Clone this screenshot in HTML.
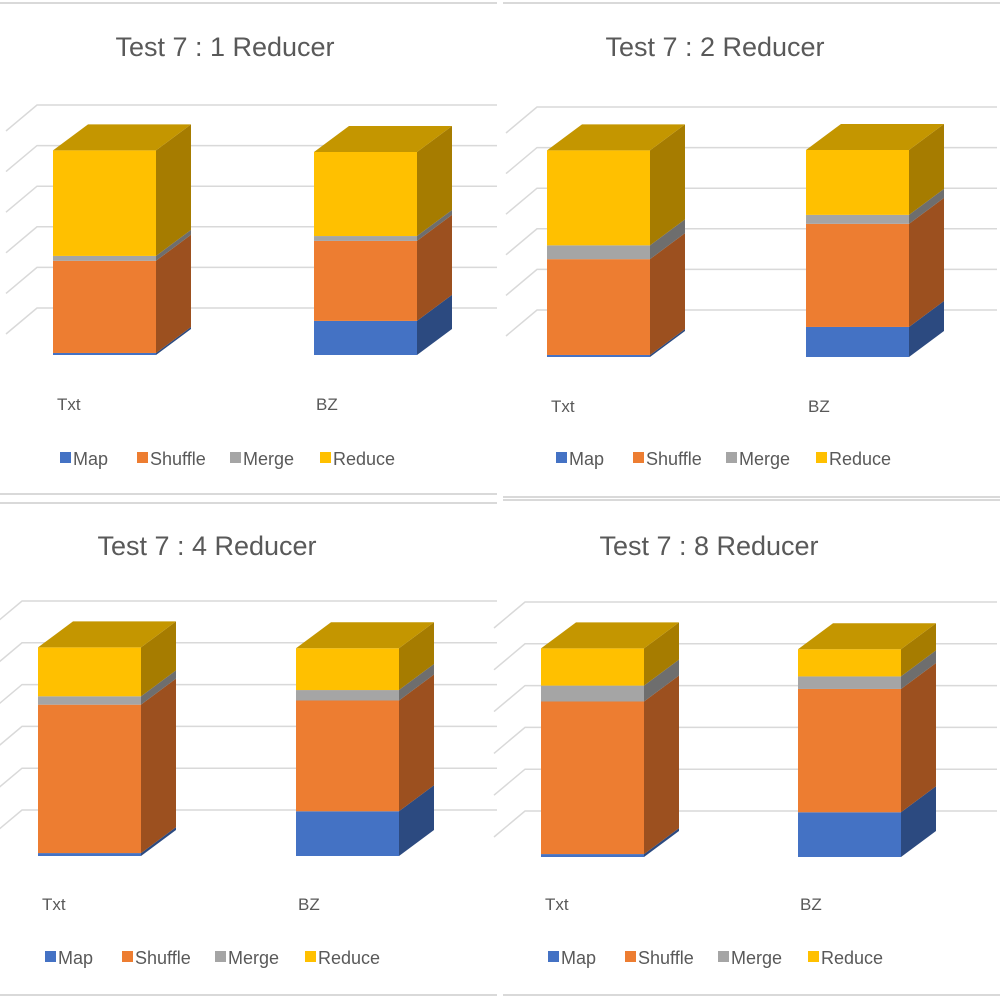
<!DOCTYPE html>
<html><head><meta charset="utf-8">
<style>
html,body{margin:0;padding:0;background:#fff;}
svg text{font-family:"Liberation Sans",sans-serif;}
</style></head>
<body>
<svg id="c" width="1000" height="1000" viewBox="0 0 1000 1000" xmlns="http://www.w3.org/2000/svg"></svg>
<script>
const titles = ["Test 7 : 1 Reducer","Test 7 : 2 Reducer","Test 7 : 4 Reducer","Test 7 : 8 Reducer"];
const categories = ["Txt","BZ"];
const seriesNames = ["Map","Shuffle","Merge","Reduce"];
// values per panel: [Txt, BZ]
const mapValues = [[0.05,0.84],[0.05,0.74],[0.07,1.07],[0.07,1.07]];
const shuffleValues = [[2.27,1.97],[2.36,2.54],[3.55,2.65],[3.65,2.95]];
const mergeValues = [[0.12,0.12],[0.34,0.22],[0.2,0.25],[0.38,0.3]];
const reduceValues = [[2.6,2.07],[2.34,1.6],[1.17,1.0],[0.89,0.65]];

const front=["#4472C4","#ED7D31","#A5A5A5","#FFC000"];
const side=["#2C4A80","#9C501F","#6E6E6E","#A67C00"];
const topc=["#3A62A8","#C8692A","#8C8C8C","#C49600"];

const panels=[
 {ox:0,oy:0,bottom:355,scale:40.6,barX:[53,314],gx:37,gOff:21,tx:225,ty:56,lblY:410,legY:458,legX:60},
 {ox:500,oy:0,bottom:357,scale:40.6,barX:[547,806],gx:537,gOff:21,tx:715,ty:56,lblY:412,legY:458,legX:556},
 {ox:0,oy:500,bottom:856,scale:41.8,barX:[38,296],gx:22,gOff:20,tx:207,ty:555,lblY:910,legY:957,legX:45},
 {ox:500,oy:500,bottom:857,scale:41.8,barX:[541,798],gx:525,gOff:20,tx:709,ty:555,lblY:910,legY:957,legX:548}
];
const BW=103, DX=35, DY=-26;
const svg=document.getElementById('c');
const NS="http://www.w3.org/2000/svg";
function mk(tag,attrs,parent){const e=document.createElementNS(NS,tag);for(const k in attrs)e.setAttribute(k,attrs[k]);(parent||svg).appendChild(e);return e;}

[[0,3,497,3],[503,3,1000,3],[0,494,497,494],[503,497,1000,497],[0,503,497,503],[503,500,1000,500],[0,995,497,995],[503,995,1000,995]].forEach(l=>{
 const s=mk('line',{x1:l[0],y1:l[1],x2:l[2],y2:l[3],stroke:"#d9d9d9","stroke-width":2});
 
 
});

panels.forEach((p,pi)=>{
 const g=mk('g',{});
 
 
 const yv=v=>p.bottom - v*p.scale;
 for(let k=0;k<6;k++){
  const y=yv(0)+DY-p.gOff-k*p.scale;
  const gl=mk('path',{d:`M${p.gx-DX+4},${y-DY} L${p.gx},${y} L${p.ox+497},${y}`,stroke:"#d9d9d9","stroke-width":1.5,fill:"none"},g);
  
  
 }
 const t=mk('text',{x:p.tx,y:p.ty,"text-anchor":"middle","font-size":27,fill:"#595959"},g);
 t.textContent=titles[pi];
 
 
 categories.forEach((cat,ci)=>{
  const vals=[mapValues[pi][ci],shuffleValues[pi][ci],mergeValues[pi][ci],reduceValues[pi][ci]];
  let acc=0;const x=p.barX[ci];
  const bar=mk('g',{},g);
  
  
  vals.forEach((v,si)=>{
   const y1=yv(acc), y2=yv(acc+v); acc+=v;
   const sd=mk('polygon',{points:`${x+BW},${y1} ${x+BW+DX},${y1+DY} ${x+BW+DX},${y2+DY} ${x+BW},${y2}`,fill:side[si]},bar);
   
   
   const fr=mk('rect',{x:x,y:y2,width:BW,height:Math.max(0,y1-y2),fill:front[si]},bar);
   
   
  });
  const yt=yv(acc);
  const tp=mk('polygon',{points:`${x},${yt} ${x+DX},${yt+DY} ${x+BW+DX},${yt+DY} ${x+BW},${yt}`,fill:topc[3]},bar);
  
  
  const lb=mk('text',{x:x+2+(ci?0:2),y:p.lblY,"font-size":17,fill:"#595959"},g);
  lb.textContent=cat;
  
  
 });
 const offs=[0,77,170,260];
 seriesNames.forEach((n,si)=>{
  const lx=p.legX+offs[si];
  const sq=mk('rect',{x:lx,y:p.legY-6,width:11,height:11,fill:front[si]},g);
  
  
  const lt=mk('text',{x:lx+13,y:p.legY+7,"font-size":18,fill:"#595959"},g);
  lt.textContent=n;
  
  
 });
});
</script>
</body></html>
